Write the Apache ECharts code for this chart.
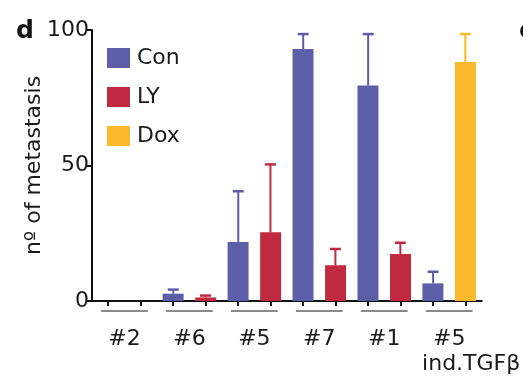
<!DOCTYPE html>
<html>
<head>
<meta charset="utf-8">
<script src="https://cdn.jsdelivr.net/npm/echarts@6/dist/echarts.min.js"></script>
<style>html,body{margin:0;padding:0;background:#fff;}#c{width:523px;height:377px;}</style>
</head>
<body>
<div id="c"></div>
<script>
var categories = ['#2', '#6', '#5', '#7', '#1', '#5\nind.TGFβ'];
var conValues = [0, 2.7, 21.8, 93, 79.5, 6.5];
var conErrTop = [null, 4.2, 40.5, 98.5, 98.5, 10.8];
var lyValues = [0, 1.3, 25.4, 13.2, 17.3, null];
var lyErrTop = [null, 2.0, 50.4, 19.2, 21.5, null];
var doxValues = [null, null, null, null, null, 88.2];
var doxErrTop = [null, null, null, null, null, 98.5];
var yTicks = [0, 50, 100];

var FONT = 'DejaVu Sans, sans-serif';
var colors = { Con: '#5d5ea8', LY: '#c02a40', Dox: '#fbb82c' };

// error bar data: [catIndex, value, errTop, side(-1 left, +1 right), color]
var errData = [];
function pushErr(vals, tops, side, color) {
  for (var i = 0; i < vals.length; i++) {
    if (tops[i] != null && vals[i] != null) errData.push([i, vals[i], tops[i], side, color]);
  }
}
pushErr(conValues, conErrTop, -1, colors.Con);
pushErr(lyValues, lyErrTop, 1, colors.LY);
pushErr(doxValues, doxErrTop, 1, colors.Dox);

var subCats = [];
categories.forEach(function (c, i) { subCats.push(i + 'a', i + 'b'); });

var chart = echarts.init(document.getElementById('c'));
chart.setOption({
  animation: false,
  backgroundColor: '#fff',
  textStyle: { fontFamily: FONT },
  title: [
    { text: 'd', left: 11, top: 14, textStyle: { fontSize: 25, fontWeight: 'bold', color: '#111', fontFamily: FONT } },
    { text: 'e', left: 514, top: 14, textStyle: { fontSize: 25, fontWeight: 'bold', color: '#111', fontFamily: FONT } }
  ],
  legend: {
    data: ['Con', 'LY', 'Dox'],
    orient: 'vertical',
    left: 102,
    top: 42,
    itemWidth: 23,
    itemHeight: 20,
    itemGap: 17,
    icon: 'rect',
    textStyle: { fontSize: 22, color: '#1a1a1a', fontFamily: FONT, padding: [0, 0, 0, 2] }
  },
  grid: { left: 92, right: 38, top: 30, bottom: 75, containLabel: false },
  xAxis: [
    {
      type: 'category',
      data: categories,
      axisLine: { show: true, lineStyle: { color: '#111', width: 2 } },
      axisTick: { show: false },
      axisLabel: {
        interval: 0,
        margin: 26,
        color: '#1a1a1a',
        fontSize: 22,
        fontFamily: FONT,
        lineHeight: 25,
        formatter: function (v) {
          var parts = v.split('\n');
          if (parts.length > 1) return '{a|' + parts[0] + '}\n{b|' + parts[1] + '}';
          return '{a|' + v + '}';
        },
        rich: {
          a: { fontSize: 22, fontFamily: FONT, color: '#1a1a1a', lineHeight: 25 },
          b: { fontSize: 22, fontFamily: FONT, color: '#1a1a1a', lineHeight: 25, padding: [0, 0, 0, 44] }
        }
      }
    },
    {
      type: 'category',
      data: subCats,
      position: 'bottom',
      axisLine: { show: false },
      axisTick: { show: true, interval: 0, alignWithLabel: true, length: 5, lineStyle: { color: '#111', width: 2 } },
      axisLabel: { show: false }
    }
  ],
  yAxis: {
    type: 'value',
    min: 0,
    max: 100,
    interval: 50,
    name: 'nº of metastasis',
    nameLocation: 'middle',
    nameGap: 47,
    nameMoveOverlap: false,
    nameTextStyle: { fontSize: 22, color: '#1a1a1a', fontFamily: FONT },
    axisLine: { show: true, lineStyle: { color: '#111', width: 2 } },
    axisTick: { show: true, length: 6, lineStyle: { color: '#111', width: 2 } },
    axisLabel: {
      fontSize: 22, color: '#1a1a1a', fontFamily: FONT, margin: 3,
      formatter: function (v) { return yTicks.indexOf(v) >= 0 ? String(v) : ''; }
    },
    splitLine: { show: false }
  },
  series: [
    { name: 'Con', type: 'bar', data: conValues, barWidth: 21, barGap: '55%', itemStyle: { color: colors.Con }, z: 2 },
    { name: 'LY', type: 'bar', stack: 'b', data: lyValues, barWidth: 21, barGap: '55%', itemStyle: { color: colors.LY }, z: 2 },
    { name: 'Dox', type: 'bar', stack: 'b', data: doxValues, barWidth: 21, barGap: '55%', itemStyle: { color: colors.Dox }, z: 2 },
    {
      type: 'custom',
      name: 'err',
      data: errData,
      z: 3,
      clip: false,
      renderItem: function (params, api) {
        var cat = api.value(0);
        var side = api.value(3);
        var color = errData[params.dataIndex][4];
        var bandW = api.size([1, 0])[0];
        var off = side * bandW * 0.248;
        var base = api.coord([cat, api.value(1)]);
        var top = api.coord([cat, api.value(2)]);
        var x = base[0] + off;
        return {
          type: 'group',
          children: [
            { type: 'line', shape: { x1: x, y1: base[1], x2: x, y2: top[1] }, style: { stroke: color, lineWidth: 2 } },
            { type: 'line', shape: { x1: x - 5.5, y1: top[1], x2: x + 5.5, y2: top[1] }, style: { stroke: color, lineWidth: 2.5 } }
          ]
        };
      }
    },
    {
      type: 'custom',
      name: 'groupLines',
      data: categories.map(function (c, i) { return [i, 0]; }),
      z: 3,
      clip: false,
      silent: true,
      renderItem: function (params, api) {
        var p = api.coord([api.value(0), 0]);
        var bandW = api.size([1, 0])[0];
        var half = bandW * 0.36;
        return {
          type: 'line',
          shape: { x1: p[0] - half, y1: p[1] + 10, x2: p[0] + half, y2: p[1] + 10 },
          style: { stroke: '#8a8a8a', lineWidth: 2 }
        };
      }
    }
  ]
});
</script>
</body>
</html>
